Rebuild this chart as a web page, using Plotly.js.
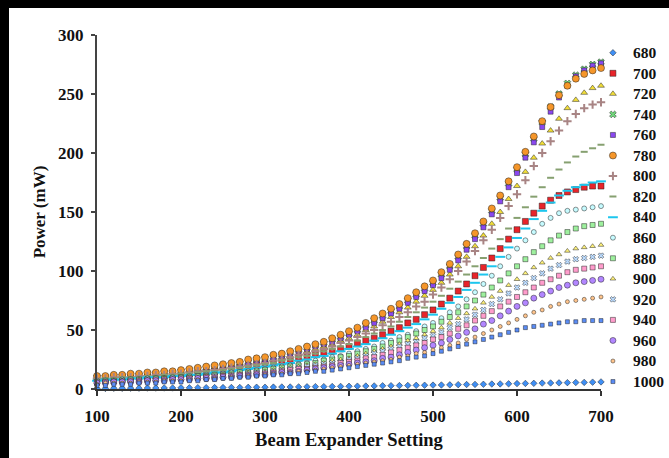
<!DOCTYPE html>
<html>
<head>
<meta charset="utf-8">
<script src="https://cdn.plot.ly/plotly-3.0.1.min.js"></script>
<style>
html,body{margin:0;padding:0;background:#000;width:669px;height:458px;overflow:hidden}
#chart{position:absolute;left:9px;top:8px;width:660px;height:450px;background:#fff}
</style>
</head>
<body>
<div id="chart"></div>
<script>
// Beam expander settings (x values)
const beamSetting = [100,110,120,130,140,150,160,170,180,190,
  200,210,220,230,240,250,260,270,280,290,
  300,310,320,330,340,350,360,370,380,390,
  400,410,420,430,440,450,460,470,480,490,
  500,510,520,530,540,550,560,570,580,590,
  600,610,620,630,640,650,660,670,680,690,700];

// Series names (wavelength)
const wavelengths = ["680","700","720","740","760","780","800","820","840","860","880","900","920","940","960","980","1000"];

// Power (mW) per wavelength
const p680 = [0.5,0.5,0.6,0.6,0.7,0.7,0.8,0.8,0.9,0.9,
  1.0,1.0,1.1,1.1,1.2,1.2,1.3,1.3,1.4,1.5,
  1.5,1.6,1.7,1.7,1.8,1.9,2.0,2.0,2.1,2.2,
  2.3,2.4,2.5,2.6,2.7,2.8,2.9,3.0,3.1,3.2,
  3.3,3.4,3.5,3.7,3.8,3.9,4.0,4.2,4.3,4.4,
  4.6,4.7,4.8,5.0,5.1,5.2,5.4,5.5,5.6,5.8,6.0];
const p700 = [8,8,9,9,10,10,10,11,11,12,
  12,13,14,14,15,16,17,18,19,20,
  21,22,23,24,26,27,29,31,32,34,
  36,39,41,43,46,49,52,56,59,63,
  67,72,77,83,89,96,103,111,119,127,
  135,142,149,155,160,164,167,169,171,172,172];
const p720 = [9,10,10,11,11,12,12,12,13,13,
  14,15,15,16,17,18,19,20,21,23,
  24,25,27,28,30,32,34,36,38,41,
  43,46,50,53,57,61,65,69,74,79,
  84,90,97,104,112,121,130,140,150,161,
  172,184,196,208,219,229,238,245,251,255,257];
const p740 = [10,10,11,11,12,12,13,13,14,14,
  15,16,17,18,19,20,21,22,23,25,
  26,27,29,31,33,35,37,39,42,44,
  47,50,54,58,62,66,70,75,80,85,
  90,97,104,112,121,130,140,151,162,174,
  186,199,212,226,239,250,259,266,271,275,277];
const p760 = [10,10,11,11,12,12,12,13,13,14,
  15,15,16,17,18,19,20,21,22,24,
  25,26,28,30,32,34,36,38,40,43,
  46,49,52,56,60,64,68,73,78,83,
  88,94,101,109,118,127,137,148,159,171,
  183,196,209,222,235,247,257,265,270,274,276];
const p780 = [11,11,12,12,13,13,14,14,15,15,
  16,17,18,19,20,21,22,23,25,26,
  27,29,30,32,34,36,38,40,43,46,
  49,52,56,60,64,68,72,77,82,87,
  92,99,106,114,123,132,142,153,164,176,
  188,201,214,227,239,249,257,263,267,270,272];
const p800 = [9,9,10,10,10,11,11,12,12,13,
  13,14,15,15,16,17,18,19,20,21,
  22,24,25,27,29,30,32,34,36,39,
  41,44,47,50,54,57,61,65,70,74,
  80,86,93,100,108,117,126,135,145,155,
  165,177,189,200,210,219,227,233,238,241,243];
const p820 = [8,9,9,10,10,10,11,11,12,12,
  13,13,14,15,15,16,17,18,19,20,
  21,22,24,25,27,28,30,32,34,36,
  38,41,44,47,50,53,57,61,65,69,
  74,79,85,91,97,104,111,119,127,136,
  145,154,163,171,179,186,192,197,201,204,207];
const p840 = [7,8,8,8,9,9,10,10,10,11,
  11,12,12,13,14,14,15,16,17,18,
  19,20,21,22,24,25,27,28,30,32,
  34,36,38,41,43,46,49,52,55,59,
  63,68,73,78,84,90,97,104,112,120,
  128,136,144,151,158,164,168,171,173,175,176];
const p860 = [7,7,7,8,8,8,9,9,9,10,
  10,11,11,12,12,13,14,14,15,16,
  17,18,19,20,21,22,24,25,27,28,
  30,32,34,36,39,41,44,46,49,53,
  56,60,65,70,76,82,89,96,104,112,
  119,126,133,140,145,149,151,152,153,154,155];
const p880 = [6,7,7,7,8,8,8,9,9,9,
  10,10,11,11,12,12,13,14,14,15,
  16,17,18,19,20,21,22,24,25,27,
  28,30,32,34,36,39,41,44,47,50,
  53,57,61,65,70,75,80,86,92,98,
  104,110,116,121,126,130,133,136,138,139,140];
const p900 = [6,6,7,7,7,8,8,8,9,9,
  9,10,10,11,11,12,12,13,14,14,
  15,16,17,18,19,20,21,22,24,25,
  26,28,30,32,34,36,38,41,43,46,
  49,52,56,60,64,68,73,78,83,88,
  93,98,103,107,111,114,117,119,120,121,122];
const p920 = [6,6,6,7,7,7,8,8,8,9,
  9,9,10,10,11,11,12,12,13,14,
  14,15,16,17,18,19,20,21,22,23,
  25,26,28,30,32,34,36,38,40,43,
  45,48,52,55,59,63,67,72,76,81,
  86,90,94,98,102,105,108,110,111,112,113];
const p940 = [5,6,6,6,7,7,7,8,8,8,
  9,9,9,10,10,11,11,12,12,13,
  13,14,15,16,17,17,18,19,20,22,
  23,24,26,27,29,31,33,35,37,39,
  42,44,47,51,54,58,62,66,70,74,
  78,82,86,90,93,96,99,101,102,103,104];
const p960 = [5,5,6,6,6,6,7,7,7,8,
  8,8,9,9,9,10,10,11,11,12,
  12,13,14,14,15,16,17,18,19,20,
  21,22,23,24,26,27,29,31,33,35,
  37,39,42,45,48,51,55,58,62,66,
  70,73,77,80,83,86,88,90,91,92,93];
const p980 = [4,5,5,5,5,6,6,6,7,7,
  7,8,8,8,9,9,10,10,11,11,
  12,13,13,14,15,15,16,17,18,19,
  20,21,22,23,24,25,27,28,30,31,
  33,35,37,39,42,44,47,50,53,56,
  59,62,65,67,70,72,74,75,76,77,78];
const p1000 = [3,3,4,4,4,5,5,5,6,6,
  6,7,7,8,8,9,9,10,10,11,
  11,12,12,13,13,14,15,15,16,17,
  18,19,20,21,22,23,24,26,27,28,
  30,32,34,36,38,40,42,44,46,48,
  50,52,53,54,55,56,57,57,58,58,58];

const powers = [p680,p700,p720,p740,p760,p780,p800,p820,p840,p860,p880,p900,p920,p940,p960,p980,p1000];

const styles = [
  {c:'#3f8ff5', s:'diamond', z:5},
  {c:'#e8242a', s:'square', z:6},
  {c:'#f2de3a', s:'triangle-up', z:6},
  {c:'#6fd67a', s:'x', z:6},
  {c:'#8a48f0', s:'square', z:5},
  {c:'#f5962a', s:'circle', z:7},
  {c:'#a88484', s:'cross-thin', z:6, line:true},
  {c:'#86a070', s:'line-ew', z:5, line:true},
  {c:'#1cc6ee', s:'line-ew', z:7, line:true},
  {c:'#c6fbff', s:'circle', z:5},
  {c:'#9ef09e', s:'square', z:5},
  {c:'#fff27a', s:'triangle-up', z:5},
  {c:'#bcdcff', s:'x', z:5},
  {c:'#ff9ccc', s:'square', z:5},
  {c:'#b286ff', s:'circle', z:6},
  {c:'#ffc48c', s:'circle', z:4},
  {c:'#5a8cf5', s:'square', z:4}
];

const FONT = 'Liberation Serif, Times New Roman, serif';

const traces = wavelengths.map((w, i) => {
  const st = styles[i];
  const marker = {color: st.c, symbol: st.s, size: st.z};
  if (st.line) {
    marker.line = {color: st.c, width: 2};
  } else {
    marker.line = {color: 'rgba(30,30,30,0.6)', width: 0.8};
  }
  return {
    type: 'scatter', mode: 'markers',
    name: '<span style="font-size:15.5px">' + w + '</span>',
    x: beamSetting, y: powers[i],
    marker: marker, cliponaxis: false
  };
});

const layout = {
  width: 660, height: 450,
  paper_bgcolor: '#fff', plot_bgcolor: '#fff',
  margin: {l: 88, r: 68, t: 27, b: 69, autoexpand: false},
  showlegend: true,
  font: {family: FONT, color: '#111'},
  xaxis: {
    range: [100, 700], tickvals: [100,200,300,400,500,600,700],
    showgrid: false, zeroline: false,
    showline: true, linecolor: '#333', linewidth: 2,
    ticks: 'outside', ticklen: 5, tickwidth: 2, tickcolor: '#333',
    ticklabelstandoff: 6,
    tickfont: {family: FONT, size: 17, weight: 700, color: '#111'},
    title: {text: 'Beam Expander Setting', font: {family: FONT, size: 18.5, weight: 700, color: '#111'}, standoff: 8}
  },
  yaxis: {
    range: [0, 300], tickvals: [0,50,100,150,200,250,300],
    showgrid: false, zeroline: false,
    showline: true, linecolor: '#444', linewidth: 2,
    ticks: 'outside', ticklen: 4, tickwidth: 2, tickcolor: '#444',
    ticklabelstandoff: 4,
    tickfont: {family: FONT, size: 17, weight: 700, color: '#111'},
    title: {text: 'Power (mW)', font: {family: FONT, size: 17, weight: 700, color: '#111'}, standoff: 8}
  },
  legend: {
    x: 0.984, xanchor: 'left', y: 0.993, yanchor: 'top',
    bgcolor: 'rgba(0,0,0,0)', borderwidth: 0,
    font: {family: FONT, size: 13.5, weight: 700, color: '#111'},
    itemwidth: 30
  }
};

Plotly.newPlot('chart', traces, layout, {displayModeBar: false, staticPlot: true});
</script>
</body>
</html>
